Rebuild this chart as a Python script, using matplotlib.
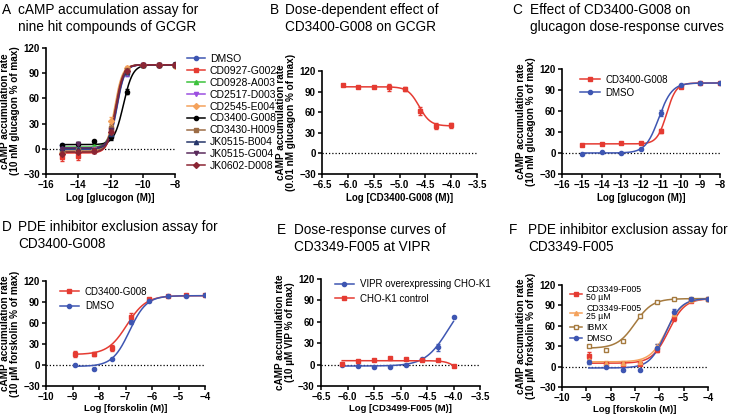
import numpy as np
import matplotlib
matplotlib.use("Agg")
import matplotlib.pyplot as plt

plt.rcParams["font.family"] = ["Liberation Sans", "DejaVu Sans"]

RED = "#e53b32"
BLUE = "#3e56b2"

# ---- panel A: nine hit compounds ----
a_x = [-15, -14, -13, -12, -11, -10, -9, -8]
a_names = ["DMSO", "CD0927-G002", "CD0928-A003", "CD2517-D003", "CD2545-E004",
           "CD3400-G008", "CD3430-H009", "JK0515-B004", "JK0515-G004", "JK0602-D008"]
a_colors = [BLUE, RED, "#3cc23c", "#9b4fe0", "#f4a25c",
            "black", "#9c6c45", "#26366a", "#5a2b5c", "#8b2634"]
a_markers = ["o", "s", "^", "v", "D", "o", "s", "^", "v", "D"]
a_vals = [
    [4, -1, -3, 15, 90, 100, 100, 100],
    [-10, -9, -3, 23, 93, 100, 100, 100],
    [0, 2, 3, 18, 92, 100, 101, 100],
    [2, 5, 0, 20, 90, 100, 100, 100],
    [-5, -3, -2, 33, 96, 100, 100, 99],
    [4, 6, 9, 14, 68, 100, 100, 101],
    [-4, -2, -2, 25, 94, 100, 100, 100],
    [1, 0, -2, 18, 91, 100, 100, 100],
    [0, 6, -1, 22, 92, 100, 100, 100],
    [-6, -4, -3, 20, 93, 100, 100, 100],
]
a_err = [
    [2, 2, 2, 3, 3, 1, 1, 1],
    [5, 4, 2, 4, 3, 1, 1, 1],
    [2, 2, 2, 3, 3, 1, 1, 1],
    [2, 2, 2, 3, 3, 1, 1, 1],
    [3, 3, 2, 5, 3, 1, 1, 1],
    [2, 2, 2, 3, 3, 1, 1, 1],
    [3, 3, 2, 4, 3, 1, 1, 1],
    [2, 2, 2, 3, 3, 1, 1, 1],
    [2, 2, 2, 3, 3, 1, 1, 1],
    [3, 3, 2, 3, 3, 1, 1, 1],
]
a_bottom = [-1, -5, 2, 1, -3, 5, -3, 0, 1, -4]
a_top = [100] * 10
a_logec50 = [-11.6, -11.7, -11.65, -11.62, -11.75, -11.2, -11.7, -11.62, -11.65, -11.68]
a_hill = [1.8, 1.8, 1.8, 1.8, 1.8, 1.5, 1.8, 1.8, 1.8, 1.8]

# ---- panel B ----
b_x = [-6.1, -5.8, -5.5, -5.2, -4.9, -4.6, -4.3, -4.0]
b_y = [100, 97, 97, 96, 94, 62, 40, 41]
b_err = [1, 1, 1, 5, 3, 6, 5, 4]
b_fit = (40, 97, -4.62, -4)

# ---- panel C ----
c_x = [-15, -14, -13, -12, -11, -10, -9, -8]
c_cd3400 = [11, 13, 14, 15, 32, 95, 100, 100]
c_dmso = [-2, 1, 0, 6, 57, 97, 100, 100]
c_err_cd3400 = [1, 1, 1, 1, 3, 2, 1, 1]
c_err_dmso = [1, 1, 1, 1, 4, 2, 1, 1]
c_fit_cd3400 = (13, 100, -10.7, 1.8)
c_fit_dmso = (0, 100, -11.1, 1.3)

# ---- panel D ----
d_x = [-8.9, -8.2, -7.5, -6.8, -6.1, -5.4, -4.7, -4.0]
d_cd3400 = [16, 16, 24, 68, 94, 98.5, 99.5, 99.5]
d_dmso = [0, -5.5, 9, 61, 92, 98, 99, 99.5]
d_err_cd3400 = [4, 3, 4, 6, 2, 1, 1, 1]
d_err_dmso = [1, 1, 1, 3, 2, 1, 1, 1]
d_fit_cd3400 = (15, 99, -6.95, 1.2)
d_fit_dmso = (-2, 99, -6.85, 1.35)

# ---- panel E ----
e_x = [-6.1, -5.8, -5.5, -5.2, -4.9, -4.6, -4.3, -4.0]
e_vipr = [0, -2, -4, -3, -0.5, 7.5, 24, 67]
e_cho = [1, 5, 7, 9, 8, 6, 6, -2.5]
e_err_vipr = [1, 1, 1, 1, 1, 1, 5, 1]
e_err_cho = [1, 1, 1, 1, 1, 1, 1, 1]
e_fit_vipr = (-2, 100, -4.1, 2)
e_fit_cho = (-30, 5.5, -3.85, -4)

# ---- panel F ----
f_x = [-8.9, -8.2, -7.5, -6.8, -6.1, -5.4, -4.7, -4.0]
f_names = ["CD3349-F005\n50 µM", "CD3349-F005\n25 µM", "IBMX", "DMSO"]
f_colors = [RED, "#f4a25c", "#a57a3e", BLUE]
f_markers = ["s", "^", "s", "o"]
f_vals = [
    [16, 4, 4, 4, 25, 72, 97, 100],
    [10, 6, 6, 7, 30, 77, 98, 100],
    [30, 24, 37, 75, 95, 99, 100, 100],
    [7, 0, -5, -5, 28, 80, 99, 100],
]
f_err = [
    [5, 2, 2, 2, 3, 5, 2, 1],
    [2, 2, 2, 2, 3, 4, 2, 1],
    [1, 1, 1, 2, 1, 1, 1, 1],
    [3, 1, 1, 1, 5, 5, 1, 1],
]
f_fits = [(5, 100, -5.62, 1.3), (7, 100, -5.7, 1.3), (27, 100, -7.0, 1.2), (-2, 100, -5.75, 1.35)]


def fourpl(x, bottom, top, logec50, hill):
    return bottom + (top - bottom) / (1 + 10 ** ((logec50 - x) * hill))


def series(ax, x, y, err, fit, color, marker, label, mfc=None, ms=3.0):
    xs = np.linspace(min(x), max(x), 300)
    ax.plot(xs, fourpl(xs, *fit), color=color, lw=1.1, zorder=2)
    ax.errorbar(x, y, yerr=err, fmt=marker, color=color, ms=ms, capsize=1.5,
                elinewidth=0.9, capthick=0.9, zorder=3,
                mfc=color if mfc is None else mfc, mew=1.0)
    # handle for the legend: line + marker
    h, = ax.plot([], [], color=color, marker=marker, ms=ms, lw=1.1,
                 mfc=color if mfc is None else mfc, label=label)
    return h


def style(ax, xlim, xticks, xlabel, ylabel, xfmt="{:.0f}", labelpad=2, xlsize=7):
    ax.set_xlim(*xlim)
    ax.set_ylim(-30, 120)
    ax.set_yticks([-30, 0, 30, 60, 90, 120])
    ax.set_xticks(xticks)
    ax.set_xticklabels([xfmt.format(t).replace("-", "\u2212") for t in xticks])
    ax.axhline(0, color="black", ls=(0, (1, 1.6)), lw=0.9, zorder=1)
    for s in ["top", "right"]:
        ax.spines[s].set_visible(False)
    for s in ["left", "bottom"]:
        ax.spines[s].set_linewidth(1.2)
    ax.tick_params(direction="out", length=3, width=1.1, labelsize=7, pad=1.5)
    for lab in ax.get_xticklabels() + ax.get_yticklabels():
        lab.set_fontweight("bold")
    ax.set_xlabel(xlabel, fontsize=xlsize, fontweight="bold", labelpad=labelpad)
    ax.set_ylabel(ylabel, fontsize=7.2, fontweight="bold", labelpad=2, linespacing=1.05)


W, H = 737, 416
fig = plt.figure(figsize=(W / 100, H / 100), dpi=100)


def axes_px(left, right, top, bottom):
    return fig.add_axes([left / W, 1 - bottom / H, (right - left) / W, (bottom - top) / H])


def title(xl, xt, y, letter, text):
    fig.text(xl / W, 1 - y / H, letter, fontsize=9.8, va="top", ha="left")
    fig.text(xt / W, 1 - y / H, text, fontsize=9.8, va="top", ha="left", linespacing=1.3)


ylab_glu = "cAMP accumulation rate\n(10 nM glucagon % of max)"

# A
axA = axes_px(46, 175, 48, 174)
hs = []
for i in range(10):
    fit = (a_bottom[i], a_top[i], a_logec50[i], a_hill[i])
    hs.append(series(axA, a_x, a_vals[i], a_err[i], fit, a_colors[i], a_markers[i], a_names[i]))
style(axA, (-16, -8), [-16, -14, -12, -10, -8], "Log [glucogon (M)]", ylab_glu)
axA.legend(handles=hs, loc="upper left", bbox_to_anchor=(1.06, 0.985), frameon=False,
           fontsize=7.5, handlelength=1.7, labelspacing=0.18, handletextpad=0.5, borderaxespad=0)
title(2, 18, 3, "A", "cAMP accumulation assay for\nnine hit compounds of GCGR")

# B
axB = axes_px(322, 477, 71, 174)
series(axB, b_x, b_y, b_err, b_fit, RED, "s", "CD3400-G008")
style(axB, (-6.5, -3.5), [-6.5, -6.0, -5.5, -5.0, -4.5, -4.0, -3.5], "Log [CD3400-G008 (M)]",
      "cAMP accumulation rate\n(0.01 nM glucagon % of max)", xfmt="{:.1f}")
title(270, 285, 3, "B", "Dose-dependent effect of\nCD3400-G008 on GCGR")

# C
axC = axes_px(562, 720, 69, 174)
h1 = series(axC, c_x, c_cd3400, c_err_cd3400, c_fit_cd3400, RED, "s", "CD3400-G008")
h2 = series(axC, c_x, c_dmso, c_err_dmso, c_fit_dmso, BLUE, "o", "DMSO")
style(axC, (-16, -8), list(range(-16, -7)), "Log [glucogon (M)]", ylab_glu)
axC.legend(handles=[h1, h2], loc="upper left", bbox_to_anchor=(0.06, 1.03), frameon=False,
           fontsize=7, handlelength=2.0, labelspacing=0.3, handletextpad=0.6)
title(512, 530, 3, "C", "Effect of CD3400-G008 on\nglucagon dose-response curves")

# D
axD = axes_px(46, 205, 281, 386)
h1 = series(axD, d_x, d_cd3400, d_err_cd3400, d_fit_cd3400, RED, "s", "CD3400-G008")
h2 = series(axD, d_x, d_dmso, d_err_dmso, d_fit_dmso, BLUE, "o", "DMSO")
style(axD, (-10, -4), list(range(-10, -3)), "Log [forskolin (M)]",
      "cAMP accumulation rate\n(10 µM forskolin % of max)", labelpad=1.5, xlsize=6.8)
axD.legend(handles=[h1, h2], loc="upper left", bbox_to_anchor=(0.03, 1.03), frameon=False,
           fontsize=7, handlelength=2.0, labelspacing=0.45, handletextpad=0.6)
title(2, 18, 220, "D", "PDE inhibitor exclusion assay for\nCD3400-G008")

# E
axE = axes_px(321, 480, 279, 386)
h1 = series(axE, e_x, e_vipr, e_err_vipr, e_fit_vipr, BLUE, "o", "VIPR overexpressing CHO-K1")
h2 = series(axE, e_x, e_cho, e_err_cho, e_fit_cho, RED, "s", "CHO-K1 control")
style(axE, (-6.5, -3.5), [-6.5, -6.0, -5.5, -5.0, -4.5, -4.0, -3.5], "Log [CD3499-F005 (M)]",
      "cAMP accumulation rate\n(10 µM VIP % of max)", xfmt="{:.1f}", labelpad=1.5, xlsize=6.8)
axE.legend(handles=[h1, h2], loc="upper left", bbox_to_anchor=(0.03, 1.08), frameon=False,
           fontsize=7, handlelength=2.0, labelspacing=0.45, handletextpad=0.6)
title(277, 294, 223, "E", "Dose-response curves of\nCD3349-F005 at VIPR")

# F
axF = axes_px(562, 708, 285, 387)
hs = []
for i in range(4):
    mfc = "white" if f_names[i] == "IBMX" else None
    hs.append(series(axF, f_x, f_vals[i], f_err[i], f_fits[i], f_colors[i], f_markers[i],
                     f_names[i], mfc=mfc))
style(axF, (-10, -4), list(range(-10, -3)), "Log [forskolin (M)]",
      "cAMP accumulation rate\n(10 µM forskolin % of max)", labelpad=1.5, xlsize=6.8)
leg = axF.legend(handles=hs, loc="upper left", bbox_to_anchor=(0.0, 1.08), frameon=False,
                 fontsize=6.3, handlelength=1.4, labelspacing=0.25, handletextpad=0.5)
for t in leg.get_texts():
    t.set_linespacing(0.85)
title(509, 528, 223, "F", "PDE inhibitor exclusion assay for\nCD3349-F005")

fig.savefig("out.png", dpi=100)
